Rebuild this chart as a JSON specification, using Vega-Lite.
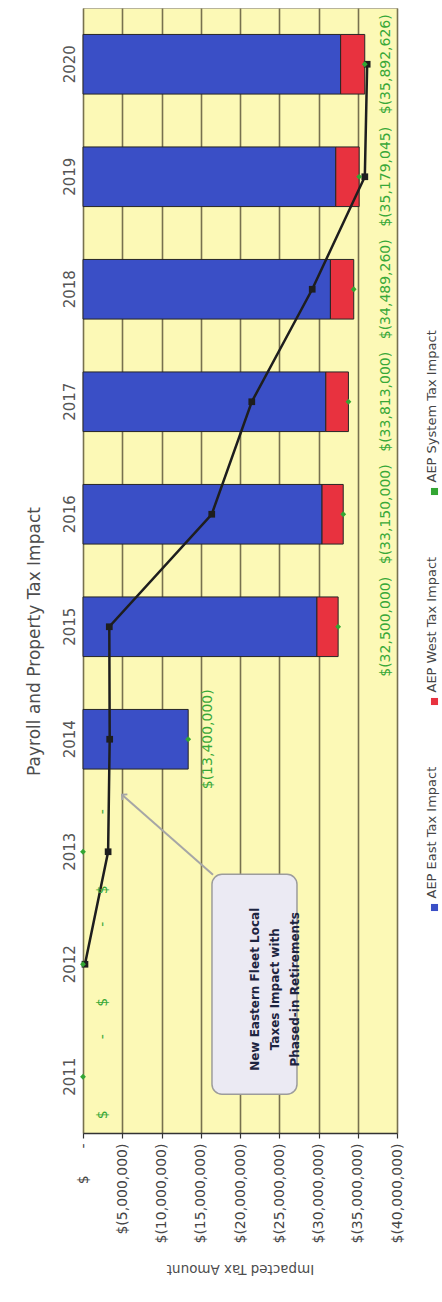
{
  "$schema": "https://vega.github.io/schema/vega-lite/v6.json",
  "width": 314,
  "height": 1125,
  "autosize": {"type": "none"},
  "padding": {"left": 83, "top": 8, "right": 45, "bottom": 169},
  "background": "white",
  "config": {
    "font": "DejaVu Sans",
    "view": {"fill": "#fcf9b6", "stroke": "#b8b49a", "strokeWidth": 1}
  },
  "title": {
    "text": "Payroll and Property Tax Impact",
    "orient": "left",
    "anchor": "middle",
    "frame": "bounds",
    "font": "DejaVu Sans",
    "fontSize": 17,
    "fontWeight": "normal",
    "color": "#4d4d4d",
    "offset": 18
  },
  "resolve": {"axis": {"x": "independent", "y": "independent"}},
  "data": {
    "values": [
      {"year": 2011, "east": 0, "west": 0, "system": 0, "fleet": null},
      {"year": 2012, "east": 0, "west": 0, "system": 0, "fleet": -250000},
      {"year": 2013, "east": 0, "west": 0, "system": 0, "fleet": -3200000},
      {"year": 2014, "east": -13400000, "west": 0, "system": -13400000, "fleet": -3400000},
      {"year": 2015, "east": -29800000, "west": -2700000, "system": -32500000, "fleet": -3350000},
      {"year": 2016, "east": -30450000, "west": -2700000, "system": -33150000, "fleet": -16400000},
      {"year": 2017, "east": -30930000, "west": -2883000, "system": -33813000, "fleet": -21500000},
      {"year": 2018, "east": -31520000, "west": -2969260, "system": -34489260, "fleet": -29200000},
      {"year": 2019, "east": -32200000, "west": -2979045, "system": -35179045, "fleet": -35900000},
      {"year": 2020, "east": -32820000, "west": -3072626, "system": -35892626, "fleet": -36200000}
    ]
  },
  "layer": [
    {
      "transform": [
        {"fold": ["east", "west"], "as": ["series", "amount"]},
        {"filter": "datum.amount != 0"}
      ],
      "mark": {"type": "bar", "stroke": "#262626", "strokeWidth": 1},
      "encoding": {
        "y": {
          "field": "year",
          "type": "ordinal",
          "scale": {
            "domain": [2020, 2019, 2018, 2017, 2016, 2015, 2014, 2013, 2012, 2011],
            "paddingInner": 0.47,
            "paddingOuter": 0.235
          },
          "axis": {
            "title": null,
            "domain": false,
            "ticks": false,
            "grid": false,
            "labelAngle": 270,
            "labelAlign": "center",
            "labelBaseline": "middle",
            "labelPadding": 14,
            "labelFont": "DejaVu Sans",
            "labelFontSize": 15,
            "labelColor": "#555555"
          }
        },
        "x": {
          "field": "amount",
          "type": "quantitative",
          "stack": "zero",
          "scale": {"domain": [-40000000, 0], "reverse": true, "nice": false},
          "axis": {
            "title": "Impacted Tax Amount",
            "titleAngle": 180,
            "titleAlign": "center",
            "titleBaseline": "middle",
            "titleX": 157,
            "titleY": 135,
            "titleFont": "DejaVu Sans",
            "titleFontSize": 13.5,
            "titleFontWeight": "normal",
            "titleColor": "#4d4d4d",
            "values": [0, -5000000, -10000000, -15000000, -20000000, -25000000, -30000000, -35000000, -40000000],
            "labelExpr": "datum.value == 0 ? '$\u00a0\u00a0\u00a0\u00a0\u00a0\u00a0-' : '$(' + format(-datum.value, ',') + ')'",
            "labelAngle": 270,
            "labelAlign": "right",
            "labelBaseline": "middle",
            "labelPadding": 5,
            "labelFont": "DejaVu Sans",
            "labelFontSize": 14,
            "labelColor": "#444444",
            "labelFlush": false,
            "labelOverlap": false,
            "labelBound": false,
            "domainColor": "#333333",
            "domainWidth": 1.5,
            "tickColor": "#333333",
            "tickSize": 5,
            "tickWidth": 1.2,
            "grid": true,
            "gridColor": "#77714f",
            "gridWidth": 1.6
          }
        },
        "color": {
          "field": "series",
          "type": "nominal",
          "scale": {
            "domain": ["system", "west", "east"],
            "range": ["#33a633", "#e8323f", "#3a4fc6"]
          },
          "legend": {
            "title": null,
            "orient": "none",
            "legendX": 345,
            "legendY": 477,
            "direction": "vertical",
            "symbolType": "square",
            "symbolSize": 50,
            "symbolStrokeWidth": 0,
            "rowPadding": 60,
            "labelFont": "DejaVu Sans",
            "labelFontSize": 13,
            "labelColor": "#444444",
            "labelLimit": 400,
            "labelExpr": "datum.label == 'east' ? 'AEP East Tax Impact' : datum.label == 'west' ? 'AEP West Tax Impact' : 'AEP System Tax Impact'",
            "encoding": {
              "labels": {
                "angle": {"value": 270},
                "align": {"value": "left"},
                "baseline": {"value": "middle"},
                "x": {"value": 4},
                "dx": {"value": 9}
              }
            }
          }
        },
        "order": {"field": "series", "sort": "ascending"}
      }
    },
    {
      "mark": {
        "type": "line",
        "color": "#1e1e1e",
        "strokeWidth": 2.5,
        "point": {"filled": true, "color": "#1e1e1e", "size": 45, "shape": "square"}
      },
      "encoding": {
        "y": {"field": "year", "type": "ordinal", "axis": null},
        "x": {"field": "fleet", "type": "quantitative", "axis": null},
        "order": {"field": "year", "type": "ordinal"}
      }
    },
    {
      "mark": {"type": "point", "shape": "diamond", "filled": true, "size": 34, "opacity": 1},
      "encoding": {
        "y": {"field": "year", "type": "ordinal", "axis": null},
        "x": {"field": "system", "type": "quantitative", "axis": null},
        "color": {"datum": "system"}
      }
    },
    {
      "transform": [
        {"filter": "datum.year <= 2014"},
        {"calculate": "datum.system == 0 ? '$\u00a0\u00a0\u00a0\u00a0\u00a0\u00a0\u00a0\u00a0\u00a0\u00a0\u00a0\u00a0\u00a0\u00a0\u00a0\u00a0-' : '$(' + format(-datum.system, ',') + ')'", "as": "lbl"}
      ],
      "mark": {"type": "text", "angle": 270, "align": "center", "baseline": "middle", "fontSize": 14, "font": "DejaVu Sans", "color": "#38a838", "xOffset": 20},
      "encoding": {
        "y": {"field": "year", "type": "ordinal", "axis": null},
        "x": {"field": "system", "type": "quantitative", "axis": null},
        "text": {"field": "lbl"}
      }
    },
    {
      "transform": [
        {"filter": "datum.year >= 2015"},
        {"calculate": "'$(' + format(-datum.system, ',') + ')'", "as": "lbl"}
      ],
      "mark": {"type": "text", "angle": 270, "align": "center", "baseline": "middle", "fontSize": 14, "font": "DejaVu Sans", "color": "#38a838"},
      "encoding": {
        "y": {"field": "year", "type": "ordinal", "axis": null},
        "x": {"datum": -38600000, "type": "quantitative", "axis": null},
        "text": {"field": "lbl"}
      }
    },
    {
      "data": {"values": [{}]},
      "mark": {"type": "rule", "color": "#a6a6a6", "strokeWidth": 2, "yOffset": 23, "y2Offset": 55.5},
      "encoding": {
        "x": {"datum": -16560000, "type": "quantitative", "axis": null},
        "x2": {"datum": -4970000},
        "y": {"datum": 2013, "type": "ordinal", "axis": null},
        "y2": {"datum": 2014}
      }
    },
    {
      "data": {"values": [{}]},
      "mark": {"type": "point", "shape": "M-0.8,0.8L0,0L0.8,0.8", "filled": false, "color": "#a6a6a6", "strokeWidth": 2, "size": 90, "angle": 311, "yOffset": 55.5, "opacity": 1},
      "encoding": {
        "x": {"datum": -4970000, "type": "quantitative", "axis": null},
        "y": {"datum": 2014, "type": "ordinal", "axis": null}
      }
    },
    {
      "data": {"values": [{}]},
      "mark": {"type": "rect", "height": 220, "yOffset": 20, "cornerRadius": 10, "fill": "#ebeaf3", "stroke": "#9c9c9c", "strokeWidth": 1.5},
      "encoding": {
        "x": {"datum": -16430000, "type": "quantitative", "axis": null},
        "x2": {"datum": -27260000},
        "y": {"datum": 2012, "type": "ordinal", "axis": null}
      }
    },
    {
      "data": {"values": [{}]},
      "mark": {
        "type": "text",
        "text": ["New Eastern Fleet Local", "Taxes Impact with", "Phased-in Retirements"],
        "angle": 270,
        "align": "center",
        "baseline": "middle",
        "font": "DejaVu Sans",
        "fontWeight": "bold",
        "fontSize": 12,
        "lineHeight": 20,
        "color": "#1d2440",
        "yOffset": 25
      },
      "encoding": {
        "x": {"datum": -21850000, "type": "quantitative", "axis": null},
        "y": {"datum": 2012, "type": "ordinal", "axis": null}
      }
    }
  ]
}
